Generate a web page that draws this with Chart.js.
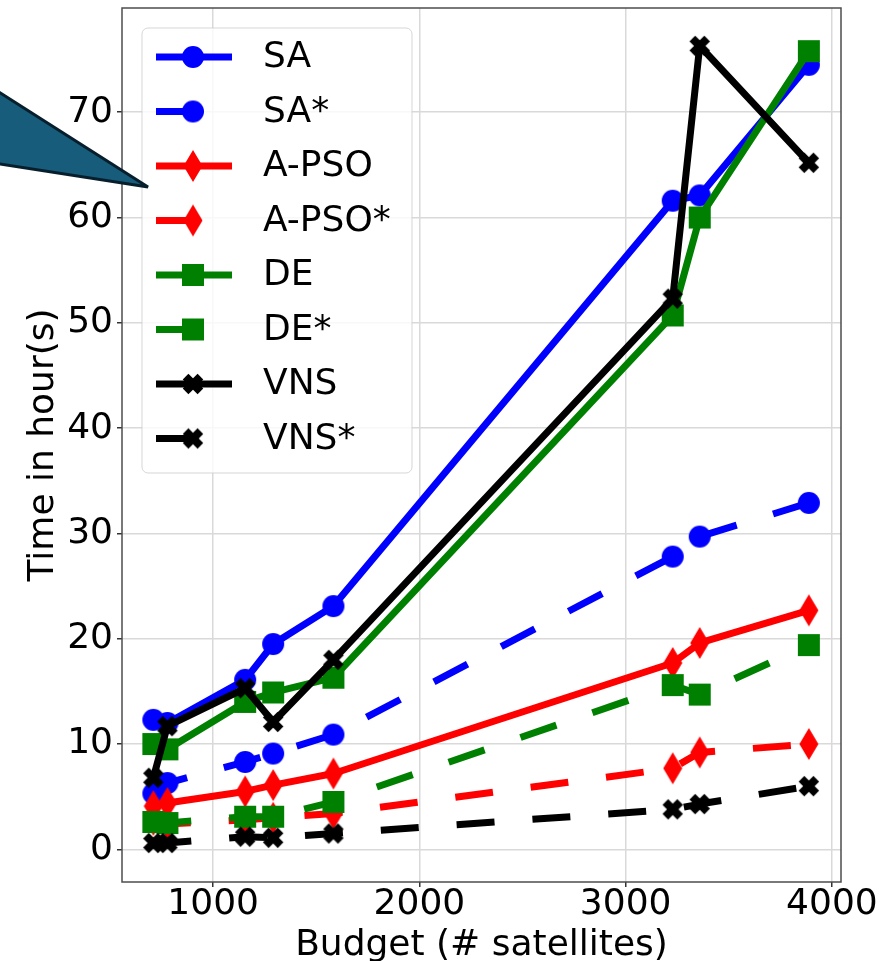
<!DOCTYPE html>
<html>
<head>
<meta charset="utf-8">
<script src="https://cdn.jsdelivr.net/npm/chart.js@4.4.0/dist/chart.umd.min.js"></script>
<style>
  html, body { margin: 0; padding: 0; background: #fff; }
  #wrap { position: relative; width: 892px; height: 961px; overflow: hidden; }
  #callout { position: absolute; left: 0; top: 0; pointer-events: none; }
</style>
</head>
<body>
<div id="wrap">
  <canvas id="myChart" width="892" height="961" style="width:892px;height:961px"></canvas>
  <svg id="callout" width="892" height="961">
    <polygon points="-6,89 148,187 -6,163" fill="#185c7b" stroke="#071f2d" stroke-width="3"></polygon>
  </svg>
</div>
<script>
// budgets (# satellites) on the x axis
var budgets = [710, 778, 1155, 1291, 1583, 3228, 3359, 3888];

// time in hours per method
var saTime = [12.3, 12.0, 16.1, 19.5, 23.1, 61.6, 62.1, 74.5];
var saStarTime = [5.3, 6.3, 8.3, 9.1, 10.9, 27.8, 29.7, 32.9];
var apsoTime = [4.1, 4.4, 5.5, 6.1, 7.2, 17.7, 19.6, 22.7];
var apsoStarTime = [2.8, 2.4, 2.8, 3.0, 3.4, 7.7, 9.2, 10.0];
var deTime = [10.0, 9.5, 14.0, 14.9, 16.3, 50.7, 60.0, 75.8];
var deStarTime = [2.6, 2.5, 3.1, 3.1, 4.5, 15.6, 14.7, 19.4];
var vnsTime = [6.8, 11.7, 15.3, 12.1, 18.0, 52.3, 76.3, 65.2];
var vnsStarTime = [0.6, 0.6, 1.2, 1.1, 1.5, 3.8, 4.3, 6.0];

var seriesLabels = ["SA", "SA*", "A-PSO", "A-PSO*", "DE", "DE*", "VNS", "VNS*"];
var xTicks = [1000, 2000, 3000, 4000];
var yTicks = [0, 10, 20, 30, 40, 50, 60, 70];

var FONT = '"DejaVu Sans", sans-serif';

// matplotlib-like markers drawn on small canvases
function makeMarker(kind, color) {
  var c = document.createElement("canvas");
  var w = 24, h = 24;
  if (kind === "diamond") { w = 20; h = 34; }
  c.width = w; c.height = h;
  var g = c.getContext("2d");
  g.fillStyle = color;
  g.translate(w / 2, h / 2);
  if (kind === "circle") {
    g.beginPath(); g.arc(0, 0, 11, 0, Math.PI * 2); g.fill();
  } else if (kind === "square") {
    g.fillRect(-11, -11, 22, 22);
  } else if (kind === "diamond") {
    g.beginPath(); g.moveTo(0, -16); g.lineTo(9.5, 0); g.lineTo(0, 16); g.lineTo(-9.5, 0); g.closePath(); g.fill();
  } else if (kind === "x") {
    g.rotate(Math.PI / 4);
    g.fillRect(-4, -10.5, 8, 21);
    g.fillRect(-10.5, -4, 21, 8);
  }
  return c;
}

function toPoints(values) {
  return values.map(function (v, i) { return { x: budgets[i], y: v }; });
}

function series(i, values, color, marker, dashed) {
  return {
    label: seriesLabels[i],
    data: toPoints(values),
    borderColor: color,
    backgroundColor: color,
    borderWidth: 7,
    borderDash: dashed ? [38, 38] : [],
    borderCapStyle: "butt",
    borderJoinStyle: "round",
    pointStyle: makeMarker(marker, color),
    pointRadius: 11,
    pointHoverRadius: 11,
    tension: 0,
    fill: false,
    order: 7 - i
  };
}

var datasets = [
  series(0, saTime, "#0000ff", "circle", false),
  series(1, saStarTime, "#0000ff", "circle", true),
  series(2, apsoTime, "#ff0000", "diamond", false),
  series(3, apsoStarTime, "#ff0000", "diamond", true),
  series(4, deTime, "#008000", "square", false),
  series(5, deStarTime, "#008000", "square", true),
  series(6, vnsTime, "#000000", "x", false),
  series(7, vnsStarTime, "#000000", "x", true)
];

// frame round the plot and legend box inside it
var framePlugin = {
  id: "frameAndLegend",
  afterDatasetsDraw: function (chart) {
    var ctx = chart.ctx, a = chart.chartArea;
    ctx.save();
    ctx.strokeStyle = "#4d4d4d";
    ctx.lineWidth = 1.5;
    ctx.strokeRect(a.left, a.top, a.right - a.left, a.bottom - a.top);

    var x0 = a.left + 20, y0 = a.top + 20, w = 270, h = 445;
    ctx.beginPath();
    ctx.roundRect(x0, y0, w, h, 6);
    ctx.fillStyle = "rgba(255,255,255,0.8)";
    ctx.fill();
    ctx.strokeStyle = "rgba(204,204,204,0.8)";
    ctx.lineWidth = 1;
    ctx.stroke();

    chart.data.datasets.forEach(function (ds, i) {
      var cy = y0 + 29 + i * 54.5;
      var lx = x0 + 14;
      var dashed = ds.borderDash && ds.borderDash.length;
      ctx.beginPath();
      ctx.strokeStyle = ds.borderColor;
      ctx.lineWidth = ds.borderWidth;
      ctx.lineCap = "butt";
      ctx.moveTo(lx, cy);
      ctx.lineTo(dashed ? lx + 37 : lx + 76, cy);
      ctx.stroke();
      var m = ds.pointStyle;
      ctx.drawImage(m, lx + 37 - m.width / 2, cy - m.height / 2);
      ctx.fillStyle = "#000";
      ctx.font = "36px " + FONT;
      ctx.textBaseline = "middle";
      ctx.fillText(ds.label, x0 + 121, cy + 1);
    });
    ctx.restore();
  }
};

function noPad(s) {
  s.paddingTop = 0; s.paddingBottom = 0; s.paddingLeft = 0; s.paddingRight = 0;
}

var ctx = document.getElementById("myChart").getContext("2d");
var myChart = new Chart(ctx, {
  type: "line",
  data: { datasets: datasets },
  options: {
    responsive: false,
    animation: false,
    layout: { autoPadding: false, padding: { top: 8, right: 51, left: 0, bottom: 0 } },
    plugins: { legend: { display: false }, tooltip: { enabled: false } },
    scales: {
      x: {
        type: "linear",
        min: 558,
        max: 4044,
        afterBuildTicks: function (s) { s.ticks = xTicks.map(function (v) { return { value: v }; }); },
        afterFit: function (s) { s.height = 79; noPad(s); },
        ticks: { color: "#000", font: { family: FONT, size: 36 }, padding: -4, maxRotation: 0,
                 callback: function (v) { return String(v); } },
        grid: { color: "#d9d9d9", lineWidth: 1.5, tickColor: "#333", tickLength: 5 },
        border: { display: false },
        title: { display: true, text: "Budget (# satellites)", color: "#000", font: { family: FONT, size: 36 }, padding: { top: 0, bottom: -6 } }
      },
      y: {
        type: "linear",
        min: -3.1,
        max: 79.9,
        afterBuildTicks: function (s) { s.ticks = yTicks.map(function (v) { return { value: v }; }); },
        afterFit: function (s) { s.width = 122; noPad(s); },
        ticks: { color: "#000", font: { family: FONT, size: 36 }, padding: 4,
                 callback: function (v) { return String(v); } },
        grid: { color: "#d9d9d9", lineWidth: 1.5, tickColor: "#333", tickLength: 5 },
        border: { display: false },
        title: { display: true, text: "Time in hour(s)", color: "#000", font: { family: FONT, size: 36 }, padding: { top: 22, bottom: 0 } }
      }
    }
  },
  plugins: [framePlugin]
});
</script>
</body>
</html>
